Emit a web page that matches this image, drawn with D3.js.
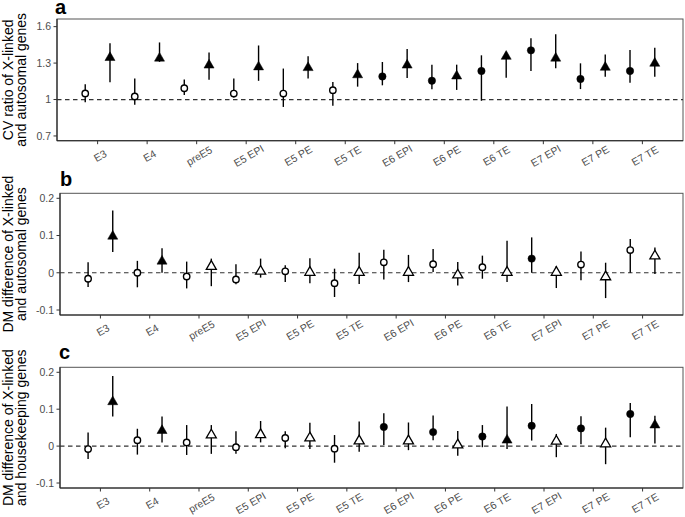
<!DOCTYPE html>
<html><head><meta charset="utf-8">
<script src="https://cdn.jsdelivr.net/npm/d3@7"></script>
<style>body{margin:0;background:#fff}svg{display:block}</style>
</head><body>
<svg id="chart" width="685" height="517"></svg>
<script>
// ---------- data ----------
const categories = ["E3","E4","preE5","E5 EPI","E5 PE","E5 TE","E6 EPI","E6 PE","E6 TE","E7 EPI","E7 PE","E7 TE"];

// panel a : CV ratio
const aCircleMean = [1.05, 1.025, 1.093, 1.049, 1.049, 1.077, 1.19, 1.155, 1.235, 1.405, 1.169, 1.235];
const aCircleLow  = [0.977, 0.956, 1.038, 1.016, 0.939, 0.948, 1.117, 1.084, 0.99, 1.235, 1.086, 1.139];
const aCircleHigh = [1.125, 1.173, 1.165, 1.173, 1.255, 1.145, 1.309, 1.287, 1.364, 1.504, 1.298, 1.408];
const aCircleSig  = [0,0,0,0,0,0,1,1,1,1,1,1];
const aTriMean = [1.345, 1.34, 1.283, 1.268, 1.262, 1.203, 1.283, 1.193, 1.355, 1.34, 1.265, 1.298];
const aTriLow  = [1.142, 1.31, 1.162, 1.154, 1.173, 1.106, 1.177, 1.079, 1.18, 1.257, 1.188, 1.188];
const aTriHigh = [1.463, 1.47, 1.388, 1.445, 1.357, 1.3, 1.416, 1.287, 1.39, 1.537, 1.37, 1.427];
const aTriSig  = [1,1,1,1,1,1,1,1,1,1,1,1];

// panel b : DM difference X vs autosomal
const bCircleMean = [-0.016, 0.0, -0.01, -0.018, 0.004, -0.028, 0.028, 0.023, 0.015, 0.038, 0.022, 0.061];
const bCircleLow  = [-0.038, -0.039, -0.042, -0.031, -0.025, -0.065, -0.018, 0.002, -0.016, 0.0, -0.02, 0.0];
const bCircleHigh = [0.028, 0.032, 0.03, 0.023, 0.02, 0.011, 0.062, 0.064, 0.046, 0.095, 0.057, 0.091];
const bCircleSig  = [0,0,0,0,0,0,0,0,0,1,0,0];
const bTriMean = [0.098, 0.031, 0.017, 0.004, 0.001, 0.001, 0.001, -0.006, 0.001, 0.001, -0.011, 0.045];
const bTriLow  = [0.056, 0.0, -0.036, -0.013, -0.028, -0.03, -0.025, -0.034, -0.025, -0.041, -0.068, -0.003];
const bTriHigh = [0.167, 0.066, 0.038, 0.038, 0.039, 0.054, 0.048, 0.029, 0.086, 0.018, 0.027, 0.068];
const bTriSig  = [1,1,0,0,0,0,0,0,0,0,0,0];

// panel c : DM difference X vs housekeeping
const cCircleMean = [-0.008, 0.016, 0.01, -0.003, 0.022, -0.007, 0.052, 0.038, 0.026, 0.055, 0.048, 0.087];
const cCircleLow  = [-0.035, -0.023, -0.024, -0.021, -0.006, -0.045, 0.003, 0.016, -0.003, 0.015, 0.005, 0.024];
const cCircleHigh = [0.037, 0.047, 0.057, 0.04, 0.04, 0.03, 0.089, 0.083, 0.057, 0.114, 0.081, 0.117];
const cCircleSig  = [0,0,0,0,0,0,1,1,1,1,1,1];
const cTriMean = [0.12, 0.042, 0.03, 0.031, 0.022, 0.014, 0.014, 0.003, 0.016, 0.013, 0.006, 0.057];
const cTriLow  = [0.08, 0.01, -0.021, 0.01, -0.008, -0.015, -0.011, -0.026, -0.008, -0.03, -0.049, 0.007];
const cTriHigh = [0.19, 0.08, 0.057, 0.068, 0.063, 0.067, 0.064, 0.041, 0.107, 0.033, 0.05, 0.082];
const cTriSig  = [1,1,0,0,0,0,0,0,1,0,0,1];

const aTicks = [0.7, 1, 1.3, 1.6];
const aTickLabels = ["0.7", "1", "1.3", "1.6"];
const dmTicks = [-0.1, 0, 0.1, 0.2];
const dmTickLabels = ["-0.1", "0", "0.1", "0.2"];

// ---------- drawing ----------
const svg = d3.select("#chart");
const FONT = "'Liberation Sans', Arial, Helvetica, sans-serif";

const panels = [
  {letter:"a", box:[57, 19, 683, 140.7], domain:[0.661, 1.663], ref:1, lx:-2, ly:-5,
   ticks:aTicks, tickLabels:aTickLabels, title:["CV ratio of X-linked","and autosomal genes"],
   circ:[aCircleMean,aCircleLow,aCircleHigh,aCircleSig], tri:[aTriMean,aTriLow,aTriHigh,aTriSig]},
  {letter:"b", box:[60, 193.3, 683, 315], domain:[-0.1134, 0.2134], ref:0, lx:0, ly:-7.5,
   ticks:dmTicks, tickLabels:dmTickLabels, title:["DM difference of X-linked","and autosomal genes"],
   circ:[bCircleMean,bCircleLow,bCircleHigh,bCircleSig], tri:[bTriMean,bTriLow,bTriHigh,bTriSig]},
  {letter:"c", box:[60, 367.3, 683, 488], domain:[-0.1135, 0.2135], ref:0, lx:-1, ly:-8,
   ticks:dmTicks, tickLabels:dmTickLabels, title:["DM difference of X-linked","and housekeeping genes"],
   circ:[cCircleMean,cCircleLow,cCircleHigh,cCircleSig], tri:[cTriMean,cTriLow,cTriHigh,cTriSig]}
];

const triR = 5.8;
const triPath = `M0,${-triR}L${triR*0.866},${triR/2}L${-triR*0.866},${triR/2}Z`;

panels.forEach(p => {
  const [x0, y0, x1, y1] = p.box;
  const pad = 0.82;
  const step = (x1 - x0) / (categories.length - 1 + 2*pad);
  const x = d3.scalePoint().domain(categories)
      .range([x0 + pad*step, x1 - pad*step]);
  const dodge = 0.25 * step;
  const y = d3.scaleLinear().domain(p.domain).range([y1, y0]);
  const g = svg.append("g");

  // panel border
  g.append("rect").attr("x", x0).attr("y", y0).attr("width", x1-x0).attr("height", y1-y0)
    .attr("fill", "none").attr("stroke", "#555").attr("stroke-width", 1);
  g.append("line").attr("x1", x0).attr("x2", x0).attr("y1", y0).attr("y2", y1)
    .attr("stroke", "#222").attr("stroke-width", 1.1);
  g.append("line").attr("x1", x0).attr("x2", x1).attr("y1", y1).attr("y2", y1)
    .attr("stroke", "#222").attr("stroke-width", 1.1);

  // y axis ticks
  p.ticks.forEach((t, i) => {
    g.append("line").attr("x1", x0-3.5).attr("x2", x0).attr("y1", y(t)).attr("y2", y(t))
      .attr("stroke", "#333").attr("stroke-width", 1);
    g.append("text").attr("x", x0-6).attr("y", y(t)).attr("dy", "0.36em")
      .attr("text-anchor", "end").attr("font-family", FONT).attr("font-size", 10.5)
      .attr("fill", "#4d4d4d").text(p.tickLabels[i]);
  });

  // x axis ticks + rotated labels
  categories.forEach(c => {
    const cx = x(c);
    g.append("line").attr("x1", cx).attr("x2", cx).attr("y1", y1).attr("y2", y1+3.5)
      .attr("stroke", "#333").attr("stroke-width", 1);
    g.append("text").attr("transform", `translate(${cx+2.5},${y1+15}) rotate(-30)`)
      .attr("text-anchor", "middle").attr("dy", "0.36em")
      .attr("font-family", FONT).attr("font-size", 10.5).attr("fill", "#4d4d4d").text(c);
  });

  // y title
  const cy = (y0 + y1) / 2;
  p.title.forEach((t, i) => {
    g.append("text").attr("transform", `translate(${12.5 + i*13},${cy}) rotate(-90)`)
      .attr("text-anchor", "middle").attr("font-family", FONT).attr("font-size", 14)
      .attr("fill", "#000").text(t);
  });

  // panel letter
  g.append("text").attr("x", x0 + p.lx).attr("y", y0 + p.ly).attr("font-family", FONT)
    .attr("font-weight", "bold").attr("font-size", 20).attr("fill", "#000").text(p.letter);

  // reference dashed line
  g.append("line").attr("x1", x0).attr("x2", x1).attr("y1", y(p.ref)).attr("y2", y(p.ref))
    .attr("stroke", "#333").attr("stroke-width", 1.2).attr("stroke-dasharray", "4.5,3.5");

  // series
  const series = [
    {arr:p.circ, off:-dodge, shape:"circle"},
    {arr:p.tri, off:dodge, shape:"tri"}
  ];
  series.forEach(s => {
    const [mean, lo, hi, sig] = s.arr;
    const rows = categories.map((c, i) => ({c, m:mean[i], lo:lo[i], hi:hi[i], sig:sig[i]}));
    g.selectAll(null).data(rows).enter().append("line")
      .attr("x1", d => x(d.c)+s.off).attr("x2", d => x(d.c)+s.off)
      .attr("y1", d => y(d.lo)).attr("y2", d => y(d.hi))
      .attr("stroke", "#000").attr("stroke-width", 1.4);
    if (s.shape === "circle") {
      g.selectAll(null).data(rows).enter().append("circle")
        .attr("cx", d => x(d.c)+s.off).attr("cy", d => y(d.m))
        .attr("r", d => d.sig ? 3.7 : 3.2)
        .attr("fill", d => d.sig ? "#000" : "#fff")
        .attr("stroke", "#000").attr("stroke-width", d => d.sig ? 0.5 : 1.4);
    } else {
      g.selectAll(null).data(rows).enter().append("path")
        .attr("d", triPath)
        .attr("transform", d => `translate(${x(d.c)+s.off},${y(d.m)})`)
        .attr("fill", d => d.sig ? "#000" : "#fff")
        .attr("stroke", "#000").attr("stroke-width", d => d.sig ? 0.5 : 1.3)
        .attr("stroke-linejoin", "miter");
    }
  });
});
</script>
</body></html>
